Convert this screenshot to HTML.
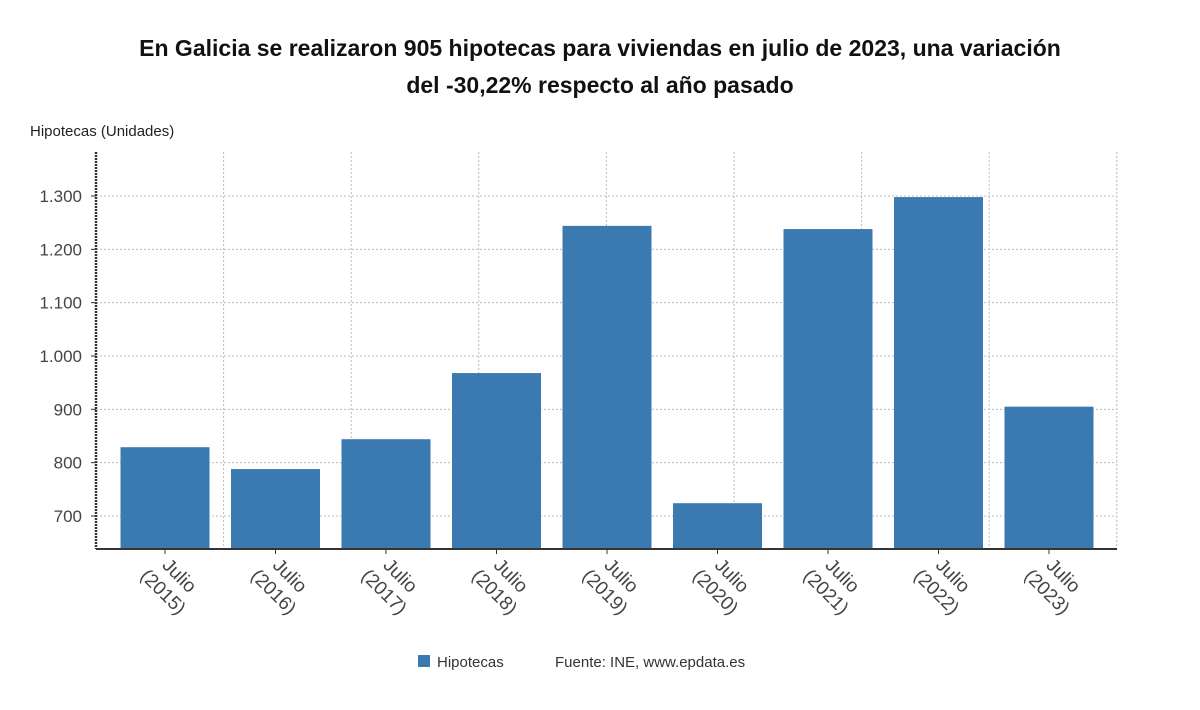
<!DOCTYPE html>
<html><head><meta charset="utf-8"><style>
body{margin:0;background:#fff;font-family:"Liberation Sans",sans-serif}
</style></head><body>
<svg width="1200" height="705" viewBox="0 0 1200 705" id="c">
<text x="600" y="56" text-anchor="middle" font-size="23" font-weight="bold" fill="#111">En Galicia se realizaron 905 hipotecas para viviendas en julio de 2023, una variación</text>
<text x="600" y="93" text-anchor="middle" font-size="23" font-weight="bold" fill="#111">del -30,22% respecto al año pasado</text>
<text x="30" y="136" font-size="15" fill="#222">Hipotecas (Unidades)</text>
<g id="grid"></g><g id="bars"></g><g id="axes"></g>
<rect x="418" y="655" width="12" height="12" fill="#3a7ab1"/>
<text x="437" y="667" font-size="15" fill="#333">Hipotecas</text>
<text x="555" y="667" font-size="15" fill="#333">Fuente: INE, www.epdata.es</text>
</svg>
<script>
const categories=["2015","2016","2017","2018","2019","2020","2021","2022","2023"];
const values=[829,788,844,968,1244,724,1238,1298,905];
const yTicks=[700,800,900,1000,1100,1200,1300];
const yTickLabels=["700","800","900","1.000","1.100","1.200","1.300"];
const NS="http://www.w3.org/2000/svg";
const L=96,R=1117,T=152,B=549;
const y=v=>516-(v-700)*(320/600);
const step=110.5;
const xc=i=>165+step*i;
function mk(t,a,p){const e=document.createElementNS(NS,t);for(const k in a)e.setAttribute(k,a[k]);p.appendChild(e);return e;}
const g=document.getElementById('grid'),b=document.getElementById('bars'),ax=document.getElementById('axes');
yTicks.forEach((v,i)=>{
 const l=mk('line',{x1:L,x2:R,y1:y(v),y2:y(v),stroke:'#bbb','stroke-dasharray':'2,2'},g);
 
 
 const t=mk('text',{x:82,y:y(v)+6,'text-anchor':'end','font-size':17,fill:'#444'},ax);
 t.textContent=yTickLabels[i];
 
 
 mk('line',{x1:91,x2:96,y1:y(v),y2:y(v),stroke:'#333'},ax);
});
for(let k=1;k<=8;k++){const x=L+k*127.6;const l=mk('line',{x1:x,x2:x,y1:T,y2:B,stroke:'#bbb','stroke-dasharray':'2,2'},g);
 
 }
categories.forEach((c,i)=>{
 const r=mk('rect',{x:xc(i)-44.5,y:y(values[i]),width:89,height:B-y(values[i]),fill:'#3a7ab1'},b);
 
 
 mk('line',{x1:xc(i),x2:xc(i),y1:B,y2:B+5,stroke:'#333'},ax);
 const t=mk('text',{transform:`translate(${xc(i)+10},${B+31}) rotate(45)`,'font-size':19,fill:'#444','text-anchor':'middle'},ax);
 
 
 const a=mk('tspan',{x:0,dy:0},t);a.textContent='Julio';
 const d=mk('tspan',{x:0,dy:23},t);d.textContent='('+c+')';
});
mk('line',{x1:L,x2:L,y1:T,y2:B,stroke:'#333','stroke-width':2.5,'stroke-dasharray':'2,1'},ax);
mk('line',{x1:L,x2:R,y1:B,y2:B,stroke:'#333','stroke-width':2},ax);
</script>
</body></html>
